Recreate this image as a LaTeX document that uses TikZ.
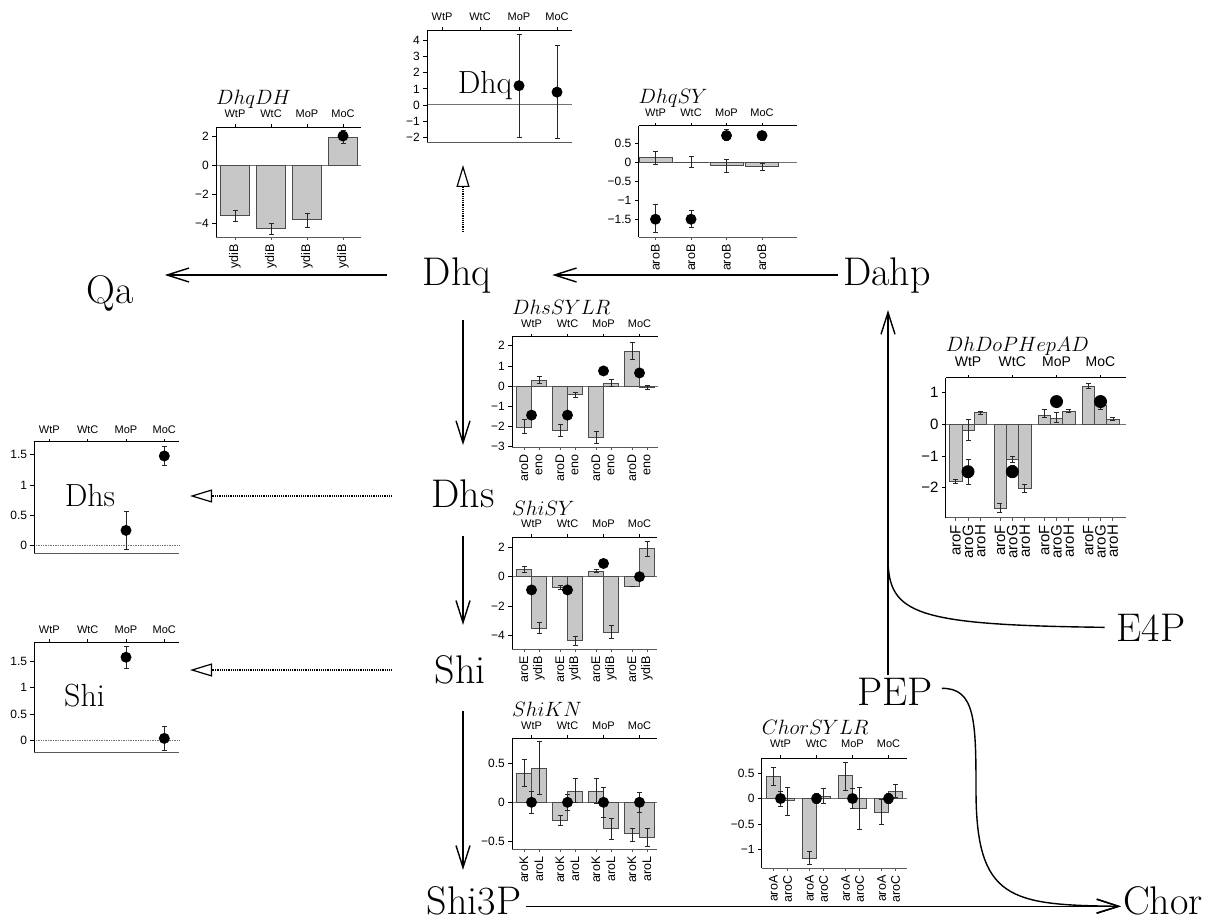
\documentclass[tikz,border=0pt]{standalone}
\usepackage{fontspec}
\setsansfont{Liberation Sans}
\usetikzlibrary{arrows.meta}
\newcounter{nn}
\tikzset{
 big/.style={font=\fontsize{40}{40}\selectfont, inner sep=0pt, anchor=base},
 inlab/.style={font=\fontsize{32}{32}\selectfont, inner sep=0pt, anchor=base},
 axst/.style={line width=0.8pt, black},
 botst/.style={line width=0.8pt, black!65},
 zst/.style={line width=0.7pt, black!55},
 barst/.style={draw=black!70, fill=black!22, line width=0.6pt},
 errst/.style={line width=0.55pt, black!85, arrows={Bar[width=5pt]-Bar[width=5pt]}},
 tl/.style={font=\sffamily\fontsize{12}{12}\selectfont, inner sep=0pt, anchor=east},
 gl/.style={font=\sffamily\fontsize{11}{11}\selectfont, inner sep=0pt, anchor=base},
 genel/.style={font=\sffamily\fontsize{12.5}{12.5}\selectfont, inner sep=0pt, anchor=east, rotate=90},
 tlb/.style={font=\sffamily\fontsize{15}{15}\selectfont, inner sep=0pt, anchor=east},
 glb/.style={font=\sffamily\fontsize{14}{14}\selectfont, inner sep=0pt, anchor=base},
 genelb/.style={font=\sffamily\fontsize{15}{15}\selectfont, inner sep=0pt, anchor=east, rotate=90},
 ttl/.style={font=\fontsize{20}{20}\selectfont, inner sep=0pt, anchor=base west},
 flow/.style={line width=1.4pt, -{Straight Barb[length=22pt,width=14pt]}},
 dflow/.style={line width=1.2pt, densely dotted, -{Triangle[open,length=22pt,width=13pt]}},
}
\newcommand\dotr{5.5pt}
\newcommand\cbar[3]{\draw[barst] (#1,0) rectangle (#2,#3);}
\newcommand\cerr[3]{\draw[errst] (#1,#2) -- (#1,#3);}
\newcommand\cpt[2]{\fill (#1,#2) circle[radius=\dotr];}
\newcommand\cframe[4]{%
 \draw[axst] (#1,#3) -- (#2,#3);
 \draw[axst] (#1,#3) -- (#1,#4);
 \draw[botst] (#1,#4) -- (#2,#4);}
\newcommand\ytick[4]{%
 \draw[axst] (#1,#2) -- ++(-4pt,0);
 \stepcounter{nn}\node[#4] (t\thenn) at ([xshift=-7pt]#1,#2) {#3};}
\newcommand\grlab[5]{%
 \draw[axst] (#1,#2) -- ++(0,3pt);
 \stepcounter{nn}\node[#4] (g\thenn) at ([yshift=#5]#1,#2) {#3};}
\newcommand\genlab[4]{%
 \draw[botst] (#1,#2) -- ++(0,-3pt);
 \stepcounter{nn}\node[#4] (e\thenn) at ([yshift=-7pt]#1,#2) {#3};}
\begin{document}
\begin{tikzpicture}[x=1pt,y=-1pt]
\useasboundingbox (0,0) rectangle (1207,920);
\fill[white] (0,0) rectangle (1207,920);

% ---------- main nodes
\node[big] (Qa) at (110,303) {Qa};
\node[big] (Dhq) at (457,285) {Dhq};
\node[big] (Dahp) at (887,285) {Dahp};
\node[big] (Dhs) at (463,507) {Dhs};
\node[big] (Shi) at (460,683) {Shi};
\node[big] (Shi3P) at (474,914) {Shi3P};
\node[big] (PEP) at (895,705) {PEP};
\node[big] (E4P) at (1151,641) {E4P};
\node[big] (Chor) at (1163,914) {Chor};

% ---------- C1 DhqDH
\begin{scope}[shift={(0,165)}, y=14.5pt]
 \draw[zst] (216,0) -- (361,0);
 \cbar{220.5}{249.5}{-3.5}\cbar{256.5}{285.5}{-4.35}\cbar{292.5}{321.5}{-3.75}\cbar{328.5}{357.5}{1.9}
 \cerr{235}{-3.1}{-3.9}\cerr{271}{-4.0}{-4.8}\cerr{307}{-3.3}{-4.3}\cerr{343}{1.45}{2.4}
 \cpt{343}{2.0}
 \cframe{216}{361}{2.62}{-4.97}
 \foreach \va/\lb in {2/2,0/0,-2/−2,-4/−4} {\ytick{216}{\va}{\lb}{tl}}
 \foreach \cx/\lb in {235/WtP,271/WtC,307/MoP,343/MoC} {\grlab{\cx}{2.62}{\lb}{gl}{10pt}}
 \foreach \cx in {235,271,307,343} {\genlab{\cx}{-4.97}{ydiB}{genel}}
 \node[ttl] (ttlA) at ([yshift=23pt]216,2.62) {$DhqDH$};
\end{scope}

% ---------- C2 Dhq
\begin{scope}[shift={(0,105)}, y=16.1pt]
 \draw[zst, line width=1pt] (427,0) -- (572,0);
 \cerr{519}{-2.05}{4.4}\cerr{557}{-2.1}{3.7}
 \cpt{519}{1.2}\cpt{557}{0.8}
 \cframe{427}{572}{4.66}{-2.3}
 \foreach \va/\lb in {4/4,3/3,2/2,1/1,0/0,-1/−1,-2/−2} {\ytick{427}{\va}{\lb}{tl}}
 \foreach \cx/\lb in {442/WtP,480/WtC,519/MoP,557/MoC} {\grlab{\cx}{4.66}{\lb}{gl}{9.5pt}}
\end{scope}
\node[inlab] (dhqin) at (485,94) {Dhq};
\coordinate (c2b) at (463,142);

% ---------- C3 DhqSY
\begin{scope}[shift={(0,162.7)}, y=37.7pt]
 \draw[zst] (638.5,0) -- (797,0);
 \cbar{639}{672}{0.13}\cbar{674.5}{707.5}{0.02}\cbar{710}{743}{-0.07}\cbar{745.5}{778.5}{-0.1}
 \cerr{655.5}{0.3}{-0.05}\cerr{691}{0.18}{-0.13}\cerr{726.5}{0.1}{-0.25}\cerr{762}{0.0}{-0.2}
 \cerr{655.5}{-1.1}{-1.85}\cerr{691}{-1.25}{-1.72}\cerr{726.5}{0.6}{0.9}\cerr{762}{0.6}{0.85}
 \cpt{655.5}{-1.5}\cpt{691}{-1.5}\cpt{726.5}{0.72}\cpt{762}{0.72}
 \cframe{638.5}{797}{0.98}{-1.98}
 \foreach \va/\lb in {0.5/0.5,0/0,-0.5/−0.5,-1/−1,-1.5/−1.5} {\ytick{638.5}{\va}{\lb}{tl}}
 \foreach \cx/\lb in {655.5/WtP,691/WtC,726.5/MoP,762/MoC} {\grlab{\cx}{0.98}{\lb}{gl}{9pt}}
 \foreach \cx in {655.5,691,726.5,762} {\genlab{\cx}{-1.98}{aroB}{genel}}
 \node[ttl] (ttlB) at ([yshift=22.5pt]638.5,0.98) {$DhqSY$};
\end{scope}

% ---------- C4 DhsSYLR
\begin{scope}[shift={(0,386)}, y=20.1pt]
 \draw[zst] (512,0) -- (658,0);
 \cbar{516.5}{531.5}{-2.05}\cbar{552.5}{567.5}{-2.2}\cbar{588.5}{603.5}{-2.55}\cbar{624.5}{639.5}{1.75}
 \cbar{531.5}{546.5}{0.28}\cbar{567.5}{582.5}{-0.43}\cbar{603.5}{618.5}{0.15}\cbar{639.5}{654.5}{-0.08}
 \cerr{524}{-1.65}{-2.35}\cerr{560}{-1.9}{-2.5}\cerr{596}{-2.25}{-2.85}\cerr{632}{2.2}{1.3}
 \cerr{539}{0.5}{0.1}\cerr{575}{-0.3}{-0.55}\cerr{611}{0.35}{-0.05}\cerr{647}{0.05}{-0.2}
 \cpt{531.5}{-1.45}\cpt{567.5}{-1.45}\cpt{603.5}{0.75}\cpt{639.5}{0.65}
 \cframe{512}{658}{2.45}{-3.05}
 \foreach \va/\lb in {2/2,1/1,0/0,-1/−1,-2/−2,-3/−3} {\ytick{512}{\va}{\lb}{tl}}
 \foreach \cx/\lb in {531.5/WtP,567.5/WtC,603.5/MoP,639.5/MoC} {\grlab{\cx}{2.45}{\lb}{gl}{9.5pt}}
 \foreach \cx in {531.5,567.5,603.5,639.5} {\pgfmathsetmacro\xa{\cx-7.5}\pgfmathsetmacro\xb{\cx+7.5}%
   \genlab{\xa}{-3.05}{aroD}{genel}\genlab{\xb}{-3.05}{eno}{genel}}
 \node[ttl] (ttlC) at ([yshift=22.7pt]512,2.45) {$DhsSYLR$};
\end{scope}

% ---------- C5 ShiSY
\begin{scope}[shift={(0,576.7)}, y=14.7pt]
 \draw[zst] (512,0) -- (657,0);
 \cbar{516.5}{531.5}{0.5}\cbar{552.5}{567.5}{-0.75}\cbar{588.5}{603.5}{0.4}\cbar{624.5}{639.5}{-0.65}
 \cbar{531.5}{546.5}{-3.5}\cbar{567.5}{582.5}{-4.35}\cbar{603.5}{618.5}{-3.75}\cbar{639.5}{654.5}{1.9}
 \cerr{524}{0.7}{0.3}\cerr{560}{-0.55}{-0.85}\cerr{596}{0.55}{0.25}\cerr{632}{-0.6}{-0.7}
 \cerr{539}{-3.1}{-3.9}\cerr{575}{-4.0}{-4.7}\cerr{611}{-3.3}{-4.2}\cerr{647}{2.45}{1.35}
 \cpt{531.5}{-0.9}\cpt{567.5}{-0.9}\cpt{603.5}{0.9}\cpt{639.5}{0.0}
 \cframe{512}{657}{2.68}{-4.92}
 \foreach \va/\lb in {2/2,0/0,-2/−2,-4/−4} {\ytick{512}{\va}{\lb}{tl}}
 \foreach \cx/\lb in {531.5/WtP,567.5/WtC,603.5/MoP,639.5/MoC} {\grlab{\cx}{2.68}{\lb}{gl}{10pt}}
 \foreach \cx in {531.5,567.5,603.5,639.5} {\pgfmathsetmacro\xa{\cx-7.5}\pgfmathsetmacro\xb{\cx+7.5}%
   \genlab{\xa}{-4.92}{aroE}{genel}\genlab{\xb}{-4.92}{ydiB}{genel}}
 \node[ttl] (ttlD) at ([yshift=22.3pt]512,2.68) {$ShiSY$};
\end{scope}

% ---------- C6 ShiKN
\begin{scope}[shift={(0,802.3)}, y=78.4pt]
 \draw[zst] (512,0) -- (657,0);
 \cbar{516.5}{531.5}{0.37}\cbar{552.5}{567.5}{-0.23}\cbar{588.5}{603.5}{0.14}\cbar{624.5}{639.5}{-0.4}
 \cbar{531.5}{546.5}{0.44}\cbar{567.5}{582.5}{0.14}\cbar{603.5}{618.5}{-0.33}\cbar{639.5}{654.5}{-0.44}
 \cerr{524}{0.55}{0.2}\cerr{560}{-0.16}{-0.3}\cerr{596}{0.31}{-0.02}\cerr{632}{-0.33}{-0.5}
 \cerr{539}{0.78}{0.1}\cerr{575}{0.31}{0.0}\cerr{611}{-0.2}{-0.47}\cerr{647}{-0.33}{-0.56}
 \cerr{531.5}{0.14}{-0.14}\cerr{567.5}{0.1}{-0.1}\cerr{603.5}{0.2}{-0.2}\cerr{639.5}{0.13}{-0.13}
 \cpt{531.5}{0}\cpt{567.5}{0}\cpt{603.5}{0}\cpt{639.5}{0}
 \cframe{512}{657}{0.816}{-0.6}
 \foreach \va/\lb in {0.5/0.5,0/0,-0.5/−0.5} {\ytick{512}{\va}{\lb}{tl}}
 \foreach \cx/\lb in {531.5/WtP,567.5/WtC,603.5/MoP,639.5/MoC} {\grlab{\cx}{0.816}{\lb}{gl}{9.3pt}}
 \foreach \cx in {531.5,567.5,603.5,639.5} {\pgfmathsetmacro\xa{\cx-7.5}\pgfmathsetmacro\xb{\cx+7.5}%
   \genlab{\xa}{-0.6}{aroK}{genel}\genlab{\xb}{-0.6}{aroL}{genel}}
 \node[ttl] (ttlE) at ([yshift=21.6pt]512,0.816) {$ShiKN$};
\end{scope}

% ---------- C7 DhDoPHepAD
\begin{scope}[shift={(0,424.3)}, y=31.6pt]
 \draw[zst] (945.7,0) -- (1126,0);
 \cbar{949.5}{961.8}{-1.8}\cbar{961.8}{974.2}{-0.2}\cbar{974.2}{986.5}{0.37}
 \cbar{993.8}{1006.1}{-2.65}\cbar{1006.1}{1018.5}{-1.1}\cbar{1018.5}{1030.8}{-2.02}
 \cbar{1038}{1050.3}{0.3}\cbar{1050.3}{1062.7}{0.2}\cbar{1062.7}{1075}{0.42}
 \cbar{1082}{1094.3}{1.2}\cbar{1094.3}{1106.7}{0.6}\cbar{1106.7}{1119}{0.17}
 \cerr{955.65}{-1.72}{-1.88}\cerr{968}{0.17}{-0.52}\cerr{980.35}{0.43}{0.32}
 \cerr{999.95}{-2.5}{-2.78}\cerr{1012.3}{-1.0}{-1.2}\cerr{1024.65}{-1.88}{-2.15}
 \cerr{1044.15}{0.48}{0.2}\cerr{1056.5}{0.4}{0.05}\cerr{1068.85}{0.48}{0.38}
 \cerr{1088.15}{1.3}{1.13}\cerr{1100.5}{0.62}{0.47}\cerr{1112.85}{0.22}{0.12}
 \cerr{968}{-1.1}{-1.9}\cerr{1012.3}{-1.3}{-1.7}\cerr{1056.5}{0.88}{0.6}\cerr{1100.5}{0.8}{0.62}
 \renewcommand\dotr{6.5pt}
 \cpt{968}{-1.5}\cpt{1012.3}{-1.5}\cpt{1056.5}{0.72}\cpt{1100.5}{0.72}
 \cframe{945.7}{1126}{1.47}{-2.96}
 \foreach \va/\lb in {1/1,0/0,-1/−1,-2/−2} {\ytick{945.7}{\va}{\lb}{tlb}}
 \foreach \cx/\lb in {968/WtP,1012.3/WtC,1056.5/MoP,1100.5/MoC} {\grlab{\cx}{1.47}{\lb}{glb}{11.7pt}}
 \foreach \cx in {968,1012.3,1056.5,1100.5} {\pgfmathsetmacro\xa{\cx-12.35}\pgfmathsetmacro\xb{\cx+12.35}%
   \genlab{\xa}{-2.96}{aroF}{genelb}\genlab{\cx}{-2.96}{aroG}{genelb}\genlab{\xb}{-2.96}{aroH}{genelb}}
 \node[ttl] (ttlF) at ([yshift=26.7pt]945.7,1.47) {$DhDoPHepAD$};
\end{scope}

% ---------- C8 ChorSYLR
\begin{scope}[shift={(0,798.5)}, y=51pt]
 \draw[zst] (761.7,0) -- (906.7,0);
 \cbar{766.5}{780.5}{0.43}\cbar{802.5}{816.5}{-1.18}\cbar{838.5}{852.5}{0.45}\cbar{874.5}{888.5}{-0.27}
 \cbar{780.5}{794.5}{-0.03}\cbar{816.5}{830.5}{0.05}\cbar{852.5}{866.5}{-0.2}\cbar{888.5}{902.5}{0.15}
 \cerr{773.5}{0.62}{0.25}\cerr{809.5}{-1.02}{-1.3}\cerr{845.5}{0.72}{0.15}\cerr{881.5}{0.0}{-0.52}
 \cerr{787.5}{0.22}{-0.33}\cerr{823.5}{0.2}{-0.1}\cerr{859.5}{0.22}{-0.6}\cerr{895.5}{0.28}{0.02}
 \cerr{780.5}{0.15}{-0.15}\cerr{816.5}{0.1}{-0.1}\cerr{852.5}{0.2}{-0.2}\cerr{888.5}{0.1}{-0.1}
 \cpt{780.5}{0}\cpt{816.5}{0}\cpt{852.5}{0}\cpt{888.5}{0}
 \cframe{761.7}{906.7}{0.79}{-1.37}
 \foreach \va/\lb in {0.5/0.5,0/0,-0.5/−0.5,-1/−1} {\ytick{761.7}{\va}{\lb}{tl}}
 \foreach \cx/\lb in {780.5/WtP,816.5/WtC,852.5/MoP,888.5/MoC} {\grlab{\cx}{0.79}{\lb}{gl}{11pt}}
 \foreach \cx in {780.5,816.5,852.5,888.5} {\pgfmathsetmacro\xa{\cx-7}\pgfmathsetmacro\xb{\cx+7}%
   \genlab{\xa}{-1.37}{aroA}{genel}\genlab{\xb}{-1.37}{aroC}{genel}}
 \node[ttl] (ttlG) at ([yshift=23.3pt]761.7,0.79) {$ChorSYLR$};
\end{scope}

% ---------- C9 Dhs
\begin{scope}[shift={(0,545.5)}, y=60.5pt]
 \draw[zst, densely dotted] (34.3,0) -- (179,0);
 \cerr{126}{-0.07}{0.57}\cerr{164.3}{1.32}{1.65}
 \cpt{126}{0.25}\cpt{164.3}{1.48}
 \cframe{34.3}{179}{1.716}{-0.13}
 \foreach \va/\lb in {1.5/1.5,1/1,0.5/0.5,0/0} {\ytick{34.3}{\va}{\lb}{tl}}
 \foreach \cx/\lb in {49.3/WtP,87.7/WtC,126/MoP,164.3/MoC} {\grlab{\cx}{1.716}{\lb}{gl}{8.5pt}}
\end{scope}
\node[inlab] (dhsin) at (90,506.7) {Dhs};
\coordinate (c9r) at (190,496);

% ---------- C10 Shi
\begin{scope}[shift={(0,740.5)}, y=52.7pt]
 \draw[zst, densely dotted] (34.3,0) -- (179,0);
 \cerr{126}{1.37}{1.8}\cerr{164.3}{-0.2}{0.28}
 \cpt{126}{1.58}\cpt{164.3}{0.04}
 \cframe{34.3}{179}{1.863}{-0.22}
 \foreach \va/\lb in {1.5/1.5,1/1,0.5/0.5,0/0} {\ytick{34.3}{\va}{\lb}{tl}}
 \foreach \cx/\lb in {49.3/WtP,87.7/WtC,126/MoP,164.3/MoC} {\grlab{\cx}{1.863}{\lb}{gl}{9pt}}
\end{scope}
\node[inlab] (shiin) at (84.5,706.7) {Shi};
\coordinate (c10r) at (190,670);

% ---------- connectors
\draw[flow, shorten <=36pt, shorten >=31pt] (Dhq.west) -- (Qa.east |- Dhq.west);
\draw[flow, shorten <=5pt, shorten >=61pt] (Dahp.west) -- (Dhq.east);
\draw[flow, shorten <=27pt, shorten >=34pt] (Dhs.north |- Dhq.south) -- (Dhs.north);
\draw[flow, shorten <=28pt, shorten >=30pt] (Dhs.south) -- (Dhs.south |- Shi.north);
\draw[flow, shorten <=27pt, shorten >=16pt] (Dhs.south |- Shi.south) -- (Dhs.south |- Shi3P.north);
\draw[flow, shorten <=5pt, shorten >=2pt] ([yshift=-6pt]Shi3P.east) -- ([yshift=-6pt]Chor.west);
\draw[dflow, shorten <=25pt, shorten >=23pt] (c2b |- Dhq.north) -- (c2b);
\draw[dflow, shorten <=39pt] (Dhs.west |- c9r) -- (c9r);
\draw[dflow, shorten <=42pt] (Shi.west |- c10r) -- (c10r);
\draw[flow, shorten <=2pt, shorten >=17pt] ([xshift=-7pt]PEP.north) -- ([xshift=-7pt]PEP.north |- Dahp.south);
\coordinate (join) at (888,560);
\draw[line width=1.4pt] ([xshift=-12pt]E4P.west) .. controls (915,625) and (889,614) .. (join);
\draw[flow, shorten >=2pt] ([xshift=9pt,yshift=3pt]PEP.east) .. controls (975,688) and (976,720) .. (976,790) .. controls (976,900) and (1010,905) .. ([yshift=-6pt]Chor.west);
\end{tikzpicture}
\end{document}
